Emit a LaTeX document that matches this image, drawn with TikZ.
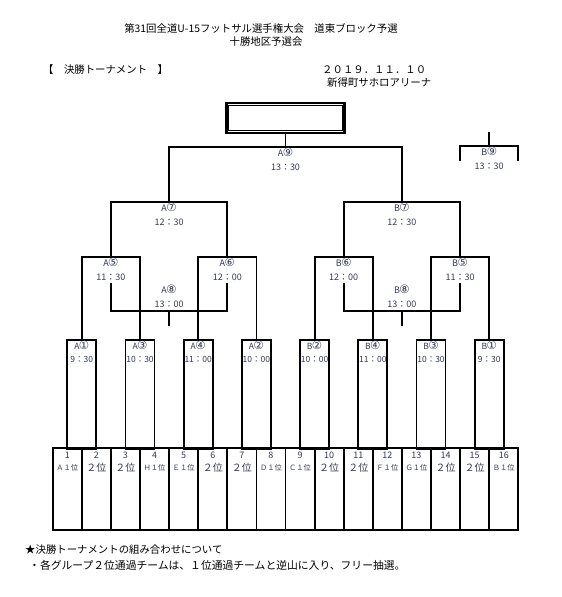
\documentclass[tikz,border=0pt]{standalone}
\usepackage{fontspec}
\setmainfont{Noto Sans CJK JP}
\newfontfamily\circfont{DejaVu Sans}
\usepackage{xcolor}
\usepackage{tikz}
\usetikzlibrary{positioning,calc}
\definecolor{lineblack}{RGB}{0, 0, 0}
\definecolor{labelslate}{RGB}{50, 58, 85}
\newcommand{\gm}[2]{#1{\circfont\fontsize{11.5}{12}\selectfont\kern-0.5pt #2}}

\begin{document}
\begin{tikzpicture}[x=1pt, y=-1pt,
    bracket/.style={line width=1.8pt, color=lineblack, line cap=rect},
    gamelabel/.style={font=\fontsize{9}{14}\selectfont, color=labelslate, align=center, inner sep=0pt, anchor=north},
    boxlabel/.style={font=\fontsize{8.5}{13}\selectfont, color=labelslate, align=center, inner sep=0pt},
    matchbox/.style={draw=lineblack, line width=1.8pt, minimum width=29.1pt, minimum height=109pt, anchor=north, inner sep=0pt},
    headtext/.style={font=\fontsize{10.4}{12}\selectfont, inner sep=0pt},
    seednum/.style={font=\fontsize{9}{10}\selectfont, color=labelslate, inner sep=0pt},
    seedbig/.style={font=\fontsize{10}{11}\selectfont, color=labelslate, inner sep=0pt},
    seedsmall/.style={font=\fontsize{7.3}{8}\selectfont, color=labelslate, inner sep=0pt}]
    \useasboundingbox (0,0) rectangle (562,597);

    % Titles
    \node[headtext] (title) at (261,28) {第31回全道U-15フットサル選手権大会　道東ブロック予選};
    \node[headtext] (subtitle) at (266,42) {十勝地区予選会};
    \node[headtext, anchor=west] (heading) at (43,70) {【　決勝トーナメント　】};
    \node[headtext, anchor=west] (date) at (322,70) {２０１９．１１．１０};
    \node[headtext, anchor=west] (venue) at (327,83) {新得町サホロアリーナ};

    % Column edges and levels
    \foreach \i in {0,...,16}
        \coordinate (c\i) at ({52.7+29.1*\i},0);
    \coordinate (yFinal) at (0,147);
    \coordinate (ySemi) at (0,202);
    \coordinate (yQuarter) at (0,257);
    \coordinate (yThirdTop) at (0,284);
    \coordinate (yThird) at (0,311);
    \coordinate (yThirdEnd) at (0,325);
    \coordinate (yBox) at (0,339);
    \coordinate (yTable) at (0,448);
    \coordinate (yTableEnd) at (0,530);
    \coordinate (yBnineTop) at (0,133);
    \coordinate (yBnine) at (0,146);
    \coordinate (yBnineEnd) at (0,160);

    % Champion box
    \node[draw=lineblack, line width=2.6pt, minimum width=118.5pt, minimum height=30pt, inner sep=0pt] (champ) at ($(c8)+(0,118)$) {};
    \draw[line width=1.1pt] ($(champ.north west)+(3.4,3.4)$) rectangle ($(champ.south east)+(-3.4,-3.4)$);

    % Final
    \draw[bracket] (champ.south) -- (c8 |- yFinal);
    \draw[bracket] (c4 |- ySemi) -- (c4 |- yFinal) -- (c12 |- yFinal) -- (c12 |- ySemi);
    \draw[bracket] (c15 |- yBnineTop) -- (c15 |- yBnine);
    \draw[bracket] (c14 |- yBnineEnd) -- (c14 |- yBnine) -- (c16 |- yBnine) -- (c16 |- yBnineEnd);

    % Semi finals
    \draw[bracket] (c2 |- yQuarter) -- (c2 |- ySemi) -- (c6 |- ySemi) -- (c6 |- yQuarter);
    \draw[bracket] (c10 |- yQuarter) -- (c10 |- ySemi) -- (c14 |- ySemi) -- (c14 |- yQuarter);

    % Third place
    \draw[bracket] (c2 |- yThirdTop) -- (c2 |- yThird) -- (c6 |- yThird) -- (c6 |- yThirdTop);
    \draw[bracket] (c4 |- yThird) -- (c4 |- yThirdEnd);
    \draw[bracket] (c10 |- yThirdTop) -- (c10 |- yThird) -- (c14 |- yThird) -- (c14 |- yThirdTop);
    \draw[bracket] (c12 |- yThird) -- (c12 |- yThirdEnd);

    % First round
    \foreach \m/\col/\txt/\tim in {A1/1/{\gm{A}{①}}/9：30, A3/3/{\gm{A}{③}}/10：30, A4/5/{\gm{A}{④}}/11：00, A2/7/{\gm{A}{②}}/10：00,
                                   B2/9/{\gm{B}{②}}/10：00, B4/11/{\gm{B}{④}}/11：00, B3/13/{\gm{B}{③}}/10：30, B1/15/{\gm{B}{①}}/9：30} {
        \node[matchbox] (\m) at (c\col |- yBox) {};
        \node[boxlabel, below=1.5pt of \m.north] (\m lbl) {\txt\\\tim};
    }

    % Quarter finals
    \draw[bracket] (A1.north) -- (c1 |- yQuarter) -- (c3 |- yQuarter) -- (A3.north);
    \draw[bracket] (A4.north) -- (c5 |- yQuarter) -- (c7 |- yQuarter) -- (A2.north);
    \draw[bracket] (B2.north) -- (c9 |- yQuarter) -- (c11 |- yQuarter) -- (B4.north);
    \draw[bracket] (B3.north) -- (c13 |- yQuarter) -- (c15 |- yQuarter) -- (B1.north);

    % Game labels
    \foreach \m/\col/\lev/\txt/\tim in {A9/8/148/{\gm{A}{⑨}}/13：30, B9/15/147/{\gm{B}{⑨}}/13：30,
                                        A7/4/203/{\gm{A}{⑦}}/12：30, B7/12/203/{\gm{B}{⑦}}/12：30,
                                        A5/2/258/{\gm{A}{⑤}}/11：30, A6/6/258/{\gm{A}{⑥}}/12：00,
                                        B6/10/258/{\gm{B}{⑥}}/12：00, B5/14/258/{\gm{B}{⑤}}/11：30,
                                        A8/4/285/{\gm{A}{⑧}}/13：00, B8/12/285/{\gm{B}{⑧}}/13：00}
        \node[gamelabel] (\m) at ($(c\col)+(0,\lev)$) {\txt\\\tim};

    % Draw table
    \draw[bracket, line width=2pt] (c0 |- yTable) rectangle (c16 |- yTableEnd);
    \foreach \i in {1,...,15}
        \draw[bracket] (c\i |- yTable) -- (c\i |- yTableEnd);
    \foreach \n/\team/\sty in {1/Ａ１位/seedsmall, 2/２位/seedbig, 3/２位/seedbig, 4/Ｈ１位/seedsmall,
                              5/Ｅ１位/seedsmall, 6/２位/seedbig, 7/２位/seedbig, 8/Ｄ１位/seedsmall,
                              9/Ｃ１位/seedsmall, 10/２位/seedbig, 11/２位/seedbig, 12/Ｆ１位/seedsmall,
                              13/Ｇ１位/seedsmall, 14/２位/seedbig, 15/２位/seedbig, 16/Ｂ１位/seedsmall} {
        \node[seednum] (num\n) at ($(c\n)+(-14.55,455)$) {\n};
        \node[\sty] (team\n) at ($(c\n)+(-14.55,468)$) {\team};
    }

    % Note
    \node[headtext, anchor=west] (note) at (25,550) {★決勝トーナメントの組み合わせについて};
    \node[headtext, anchor=west, font=\fontsize{10.8}{12}\selectfont] (rule) at (29,565) {・各グループ２位通過チームは、１位通過チームと逆山に入り、フリー抽選。};
\end{tikzpicture}
\end{document}
